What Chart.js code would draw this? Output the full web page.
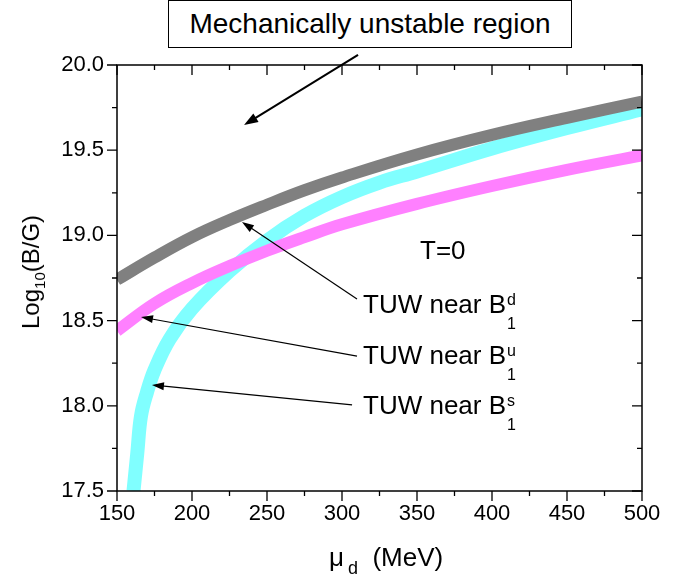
<!DOCTYPE html>
<html>
<head>
<meta charset="utf-8">
<script src="https://cdn.jsdelivr.net/npm/chart.js@4"></script>
<style>
  body { margin: 0; background: #fff; }
  #wrap { position: relative; width: 688px; height: 578px; font-family: "Liberation Sans", Arial, sans-serif; color: #000; }
  canvas { position: absolute; left: 0; top: 0; }
  .txt { position: absolute; white-space: nowrap; line-height: 1; }
  .ss { position: relative; display: inline-block; width: 10px; }
  .sp, .sb { position: absolute; left: 1px; font-size: 16px; line-height: 1; }
  .sp { top: -21px; }
  .sb { top: 3px; }
  #box { position: absolute; left: 168px; top: 0px; width: 402px; height: 46px; border: 1.5px solid #000; display: flex; align-items: center; justify-content: center; font-size: 28px; background: #fff; }
</style>
</head>
<body>
<div id="wrap">
  <canvas id="chart" width="688" height="578"></canvas>
  <div id="box">Mechanically unstable region</div>
  <div class="txt" style="left:420px; top:237px; font-size:26px;">T=0</div>
  <div class="txt" style="left:363px; top:291px; font-size:26px;">TUW near B<span class="ss"><span class="sp">d</span><span class="sb">1</span></span></div>
  <div class="txt" style="left:363px; top:342px; font-size:26px;">TUW near B<span class="ss"><span class="sp">u</span><span class="sb">1</span></span></div>
  <div class="txt" style="left:363px; top:392px; font-size:26px;">TUW near B<span class="ss"><span class="sp">s</span><span class="sb">1</span></span></div>
  <div class="txt" style="left:329px; top:544px; font-size:26px;">&mu;<span style="font-size:18px; position:relative; top:8px; margin-left:4px;">d</span>&nbsp;&nbsp;(MeV)</div>
  <div class="txt" style="left:31px; top:272px; font-size:24px; transform: translate(-50%,-50%) rotate(-90deg);">Log<span style="font-size:15px; position:relative; top:6px;">10</span>(B/G)</div>
</div>
<script>
// values
const muValues = [150, 175, 200, 225, 250, 275, 300, 350, 400, 450, 500];
const logBd = [18.74, 18.87, 18.99, 19.09, 19.18, 19.265, 19.34, 19.475, 19.59, 19.69, 19.785];
const logBu = [18.44, 18.60, 18.72, 18.82, 18.91, 18.99, 19.065, 19.185, 19.29, 19.385, 19.47];

const muS = [161, 163.5, 166, 170, 175, 185, 200, 225, 250, 275, 300, 325, 350, 400, 450, 500];
const logBs = [17.5, 17.72, 17.94, 18.08, 18.21, 18.39, 18.57, 18.79, 18.97, 19.115, 19.225, 19.31, 19.375, 19.51, 19.63, 19.74];

const xTicks = [150, 200, 250, 300, 350, 400, 450, 500];
const yTicks = [17.5, 18.0, 18.5, 19.0, 19.5, 20.0];

// annotation arrows, in data units: [fromX, fromY, toX, toY, width]
const arrows = [
  [310.7, 20.06, 234.7, 19.648, 2],
  [310, 18.627, 233.3, 19.079, 1.2],
  [310, 18.292, 166, 18.521, 1.2],
  [306.7, 18.005, 173.3, 18.122, 1.2]
];

const toPoints = (xs, ys) => xs.map((x, i) => ({ x: x, y: ys[i] }));

const framePlugin = {
  id: 'frame',
  afterDraw(chart) {
    const ctx = chart.ctx;
    const a = chart.chartArea;
    const xs = chart.scales.x, ys = chart.scales.y;
    ctx.save();
    ctx.strokeStyle = '#000';
    ctx.lineWidth = 1.5;
    ctx.strokeRect(a.left, a.top, a.right - a.left, a.bottom - a.top);
    ctx.lineWidth = 1.3;
    ctx.beginPath();
    for (let v = 150; v <= 500; v += 25) {
      const px = xs.getPixelForValue(v);
      const len = v % 50 === 0 ? 10 : 5;
      ctx.moveTo(px, a.bottom); ctx.lineTo(px, a.bottom + len);
      ctx.moveTo(px, a.top); ctx.lineTo(px, a.top + len);
    }
    for (let v = 17.5; v <= 20.001; v += 0.25) {
      const py = ys.getPixelForValue(v);
      const len = Math.abs(v * 2 - Math.round(v * 2)) < 0.01 ? 10 : 5;
      ctx.moveTo(a.left, py); ctx.lineTo(a.left - len, py);
      ctx.moveTo(a.right, py); ctx.lineTo(a.right - len, py);
    }
    ctx.stroke();

    arrows.forEach(ar => {
      const x1 = xs.getPixelForValue(ar[0]), y1 = ys.getPixelForValue(ar[1]);
      const x2 = xs.getPixelForValue(ar[2]), y2 = ys.getPixelForValue(ar[3]);
      const ang = Math.atan2(y2 - y1, x2 - x1);
      const hl = ar[4] > 1.5 ? 14 : 12, hw = ar[4] > 1.5 ? 5 : 4;
      ctx.lineWidth = ar[4];
      ctx.beginPath();
      ctx.moveTo(x1, y1);
      ctx.lineTo(x2 - Math.cos(ang) * hl * 0.8, y2 - Math.sin(ang) * hl * 0.8);
      ctx.stroke();
      ctx.beginPath();
      ctx.moveTo(x2, y2);
      ctx.lineTo(x2 - Math.cos(ang) * hl - Math.sin(ang) * hw, y2 - Math.sin(ang) * hl + Math.cos(ang) * hw);
      ctx.lineTo(x2 - Math.cos(ang) * hl + Math.sin(ang) * hw, y2 - Math.sin(ang) * hl - Math.cos(ang) * hw);
      ctx.closePath();
      ctx.fillStyle = '#000';
      ctx.fill();
    });
    ctx.restore();
  }
};

const lineStyle = {
  pointRadius: 0,
  fill: false,
  tension: 0.4,
  borderCapStyle: 'butt',
  borderJoinStyle: 'round'
};

new Chart(document.getElementById('chart'), {
  type: 'line',
  data: {
    datasets: [
      Object.assign({ data: toPoints(muValues, logBd), borderColor: '#808080', borderWidth: 12 }, lineStyle),
      Object.assign({ data: toPoints(muValues, logBu), borderColor: '#ff80ff', borderWidth: 12 }, lineStyle),
      Object.assign({ data: toPoints(muS, logBs), borderColor: '#80ffff', borderWidth: 14 }, lineStyle)
    ]
  },
  options: {
    responsive: false,
    animation: false,
    layout: { padding: { left: 0, right: 46, top: 65, bottom: 0 } },
    plugins: { legend: { display: false }, tooltip: { enabled: false } },
    scales: {
      x: {
        type: 'linear', min: 150, max: 500,
        afterFit: axis => { axis.height = 87; },
        afterBuildTicks: axis => { axis.ticks = xTicks.map(v => ({ value: v })); },
        grid: { display: false, drawTicks: false },
        border: { display: false },
        ticks: { color: '#000', padding: 10, font: { family: 'Liberation Sans', size: 22 }, maxRotation: 0, autoSkip: false }
      },
      y: {
        type: 'linear', min: 17.5, max: 20,
        afterFit: axis => { axis.width = 117; },
        afterBuildTicks: axis => { axis.ticks = yTicks.map(v => ({ value: v })); },
        grid: { display: false, drawTicks: false },
        border: { display: false },
        ticks: { color: '#000', padding: 13, font: { family: 'Liberation Sans', size: 22 }, autoSkip: false, callback: v => v.toFixed(1) }
      }
    }
  },
  plugins: [framePlugin]
});
</script>
</body>
</html>
